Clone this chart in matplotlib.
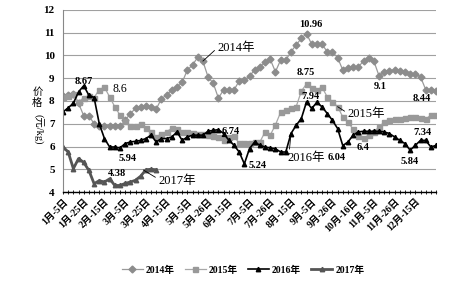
import numpy as np
import matplotlib
matplotlib.use('Agg')
import matplotlib.pyplot as plt

plt.rcParams['font.family'] = ['Liberation Serif', 'Noto Sans CJK SC', 'DejaVu Sans']

# Datos cada 5 dias (73 puntos por año)
y2014 = [8.2, 8.25, 8.3, 7.9, 7.35, 7.35, 7.0, 6.9, 6.9, 6.9,
         6.9, 6.9, 7.15, 7.45, 7.67, 7.75, 7.77, 7.74, 7.65, 8.1,
         8.26, 8.48, 8.6, 8.82, 9.36, 9.58, 9.92, 9.75, 9.05, 8.78,
         8.12, 8.5, 8.48, 8.48, 8.88, 8.92, 9.1, 9.36, 9.5, 9.69,
         9.83, 9.28, 9.8, 9.8, 10.16, 10.46, 10.75, 10.96, 10.49, 10.49,
         10.49, 10.16, 10.16, 9.9, 9.36, 9.47, 9.5, 9.5, 9.75, 9.87,
         9.75, 9.1, 9.28, 9.33, 9.36, 9.33, 9.28, 9.2, 9.2, 9.06,
         8.5, 8.5, 8.44]
y2015 = [8.18, 8.2, 8.3, 7.95, 8.15, 8.2, 8.15, 8.5, 8.6, 8.18,
         7.74, 7.38, 7.13, 6.9, 6.9, 6.98, 6.8, 6.65, 6.42, 6.55,
         6.65, 6.8, 6.75, 6.65, 6.62, 6.6, 6.57, 6.55, 6.5, 6.45,
         6.4, 6.27, 6.4, 6.45, 6.15, 6.15, 6.15, 6.2, 6.2, 6.64,
         6.5, 6.95, 7.5, 7.6, 7.68, 7.75, 8.43, 8.75, 8.55, 8.5,
         8.6, 8.18, 7.96, 7.75, 7.3, 7.08, 6.75, 6.46, 6.36, 6.5,
         6.65, 6.86, 7.08, 7.15, 7.2, 7.22, 7.25, 7.3, 7.28, 7.25,
         7.2, 7.38, 7.38]
y2016 = [7.52, 7.7, 7.9, 8.4, 8.67, 8.25, 8.15, 7.0, 6.35, 5.98,
         5.98, 5.94, 6.13, 6.2, 6.23, 6.27, 6.35, 6.5, 6.2, 6.35,
         6.35, 6.42, 6.64, 6.27, 6.42, 6.5, 6.5, 6.5, 6.67, 6.71,
         6.74, 6.57, 6.28, 6.06, 5.76, 5.24, 5.91, 6.2, 6.05, 5.98,
         5.94, 5.9, 5.76, 5.76, 6.57, 6.93, 7.23, 7.96, 7.67, 7.94,
         7.74, 7.45, 7.15, 6.79, 6.04, 6.2, 6.5, 6.64, 6.67, 6.67,
         6.67, 6.67, 6.64, 6.57, 6.42, 6.27, 6.13, 5.84, 6.05, 6.27,
         6.27, 5.98, 6.05]
y2017 = [5.98, 5.76, 5.03, 5.47, 5.3, 4.95, 4.37, 4.5, 4.44, 4.58,
         4.29, 4.29, 4.38, 4.44, 4.52, 4.7, 4.98, 5.0, 4.98]

fechas = ['1月-5日', '1月-25日', '2月-15日', '3月-5日', '3月-25日', '4月-15日',
          '5月-5日', '5月-26日', '6月-15日', '7月-5日', '7月-26日', '8月-15日',
          '9月-5日', '9月-26日', '10月-16日', '11月-5日', '11月-26日', '12月-15日']

x_all = np.arange(len(y2014))
x17 = np.arange(len(y2017))

fig = plt.figure(figsize=(4.5, 2.91), dpi=100)
ax = fig.add_axes([0.14, 0.34, 0.829, 0.626])

l14, = ax.plot(x_all, y2014, color='#9a9a9a', lw=0.9, marker='D', ms=3.5, mec='#8c8c8c', mfc='#8c8c8c', label='2014年')
l15, = ax.plot(x_all, y2015, color='#a8a8a8', lw=0.9, marker='s', ms=3.6, mec='#999999', mfc='#999999', label='2015年')
l16, = ax.plot(x_all, y2016, color='black', lw=1.2, marker='^', ms=3.2, label='2016年')
l17, = ax.plot(x17, y2017, color='#555555', lw=2.0, marker='^', ms=3.2, label='2017年')

ax.set_xlim(0, len(y2014) - 1)
ax.set_ylim(4, 12)
ax.set_yticks(range(4, 13))
ax.yaxis.grid(True, color='#a0a0a0', lw=0.8)
ax.set_axisbelow(True)
for s in ['top', 'right']:
    ax.spines[s].set_visible(False)
ax.spines['left'].set_color('#888888')
ax.spines['bottom'].set_linewidth(1.0)

ax.set_xticks(np.arange(len(fechas)) * 4)
ax.set_xticks(x_all, minor=True)
ax.set_xticklabels(fechas, rotation=45, ha='right', rotation_mode='anchor', fontsize=7, fontweight='bold')
ax.tick_params(axis='x', which='both', direction='inout', length=3, width=0.6, pad=2)
ax.tick_params(axis='y', length=0, labelsize=8, pad=6)
for t in ax.get_yticklabels():
    t.set_fontweight('bold')

# Eje Y: etiqueta vertical
fig.text(0.083, 0.665, '价\n格', fontsize=7.5, ha='center', va='center', linespacing=1.1)
fig.text(0.083, 0.555, '(元/kg)', fontsize=7.5, ha='center', va='center', rotation=-90)

# Etiquetas de valores
etq = dict(fontsize=7.5, fontweight='bold', ha='center', va='center')
ax.text(4.05, 8.87, '8.67', **etq)
ax.text(11, 8.52, '8.6', fontsize=8.5, ha='center', va='center')
ax.text(12.4, 5.46, '5.94', **etq)
ax.text(10.4, 4.8, '4.38', **etq)
ax.text(32.4, 6.65, '6.74', **etq)
ax.text(37.5, 5.18, '5.24', **etq)
ax.text(47.9, 11.34, '10.96', **etq)
ax.text(46.9, 9.27, '8.75', **etq)
ax.text(47.7, 8.19, '7.94', **etq)
ax.text(61.2, 8.65, '9.1', **etq)
ax.text(69.3, 8.1, '8.44', **etq)
ax.text(69.3, 6.63, '7.34', **etq)
ax.text(58, 5.97, '6.4', **etq)
ax.text(52.9, 5.53, '6.04', **etq)
ax.text(67, 5.35, '5.84', **etq)

# Nombres de las series con linea guia
guia = dict(arrowstyle='-', lw=0.6, color='black', shrinkA=0, shrinkB=0)
ax.annotate('2014年', xy=(27, y2014[27]), xytext=(33.4, 10.33), fontsize=9, ha='center', va='center',
            arrowprops=dict(relpos=(0, 0.5), **guia))
ax.annotate('2015年', xy=(53, y2015[53]), xytext=(58.5, 7.42), fontsize=9, ha='center', va='center',
            arrowprops=dict(relpos=(0, 0.6), **guia))
ax.annotate('2016年', xy=(44, y2016[44]), xytext=(46.9, 5.5), fontsize=9, ha='center', va='center',
            arrowprops=dict(relpos=(0.05, 0.9), **guia))
ax.annotate('2017年', xy=(15.5, 4.97), xytext=(22, 4.47), fontsize=9, ha='center', va='center',
            arrowprops=dict(relpos=(0, 0.7), **guia))

fig.legend(handles=[l14, l15, l16, l17], loc='center', bbox_to_anchor=(0.54, 0.072), ncol=4,
           frameon=False, prop={'size': 7, 'weight': 'bold'}, handlelength=2.2, handletextpad=0.3,
           columnspacing=1.0)

fig.savefig('out.png', dpi=100)
